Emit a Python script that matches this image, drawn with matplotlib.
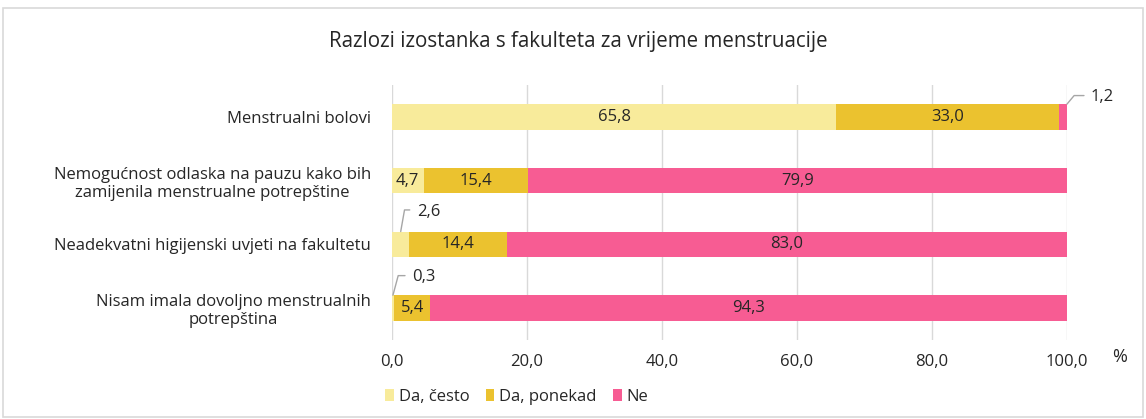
import matplotlib.pyplot as plt
from matplotlib.patches import Rectangle
import numpy as np

plt.rcParams['font.family'] = ['Open Sans', 'DejaVu Sans']

categories = [
    "Menstrualni bolovi",
    "Nemogućnost odlaska na pauzu kako bih\nzamijenila menstrualne potrepštine",
    "Neadekvatni higijenski uvjeti na fakultetu",
    "Nisam imala dovoljno menstrualnih\npotrepština",
]
series = ["Da, često", "Da, ponekad", "Ne"]
da_cesto = [65.8, 4.7, 2.6, 0.3]
da_ponekad = [33.0, 15.4, 14.4, 5.4]
ne = [1.2, 79.9, 83.0, 94.3]
colors = ["#F8EB9B", "#EBC22F", "#F75C93"]

fig = plt.figure(figsize=(11.46, 4.19), dpi=100)
fig.patches.append(Rectangle((0.003, 0.004), 0.994, 0.976, transform=fig.transFigure,
                             fill=False, edgecolor="#d9d9d9", lw=1.2))
ax = fig.add_axes([0.342, 0.189, 0.589, 0.608])

fs = 12
y = np.arange(len(categories))
left = np.zeros(len(categories))
for name, vals, c in zip(series, [da_cesto, da_ponekad, ne], colors):
    vals = np.array(vals)
    ax.barh(y, vals, left=left, height=0.4, color=c, label=name, zorder=2)
    for yi, l, v in zip(y, left, vals):
        if v >= 4:
            ax.text(l + v / 2, yi, f"{v:.1f}".replace(".", ","), ha="center", va="center",
                    fontsize=fs, color="#262626", zorder=3)
    left += vals

# small values with leader lines: (row, series index, x of line start, text offset px, angle)
small = [(0, 2, 100, (24, 7), 50),
         (2, 0, da_cesto[2] / 2, (16, 20), 80),
         (3, 0, da_cesto[3] / 2, (19, 18), 75)]
for row, s, xv, off, ang in small:
    v = [da_cesto, da_ponekad, ne][s][row]
    ax.annotate(f"{v:.1f}".replace(".", ","), xy=(xv, row - 0.2), xytext=off,
                textcoords="offset pixels", ha="left", va="center", fontsize=fs,
                color="#262626",
                arrowprops=dict(arrowstyle="-", color="#a6a6a6", lw=1,
                                shrinkA=3, shrinkB=0, relpos=(0, 0.6),
                                connectionstyle=f"angle,angleA=0,angleB={ang},rad=0"))

ax.set_xlim(0, 100)
ax.set_ylim(3.5, -0.5)
ax.set_xticks(np.arange(0, 101, 20))
ax.set_xticklabels([f"{t:.1f}".replace(".", ",") for t in np.arange(0, 101, 20)])
ax.set_yticks(y)
ax.set_yticklabels(categories, multialignment="center")
ax.tick_params(length=0, labelsize=fs, labelcolor="#262626")
ax.tick_params(axis="y", pad=15)
ax.tick_params(axis="x", pad=10)
ax.grid(axis="x", color="#d9d9d9", lw=1, zorder=0)
for sp in ax.spines.values():
    sp.set_visible(False)

fig.text(0.977, 0.148, "%", fontsize=13, color="#262626", ha="center", va="center")
fig.text(0.505, 0.9, "Razlozi izostanka s fakulteta za vrijeme menstruacije",
         fontsize=14.8, color="#262626", ha="center", va="center")
ax.legend(loc="center", bbox_to_anchor=(0.451, 0.053), bbox_transform=fig.transFigure,
          ncol=3, frameon=False, fontsize=fs, handlelength=0.5, handleheight=0.8,
          handletextpad=0.3, columnspacing=1.0, labelcolor="#262626")

fig.savefig("out.png", dpi=100)
